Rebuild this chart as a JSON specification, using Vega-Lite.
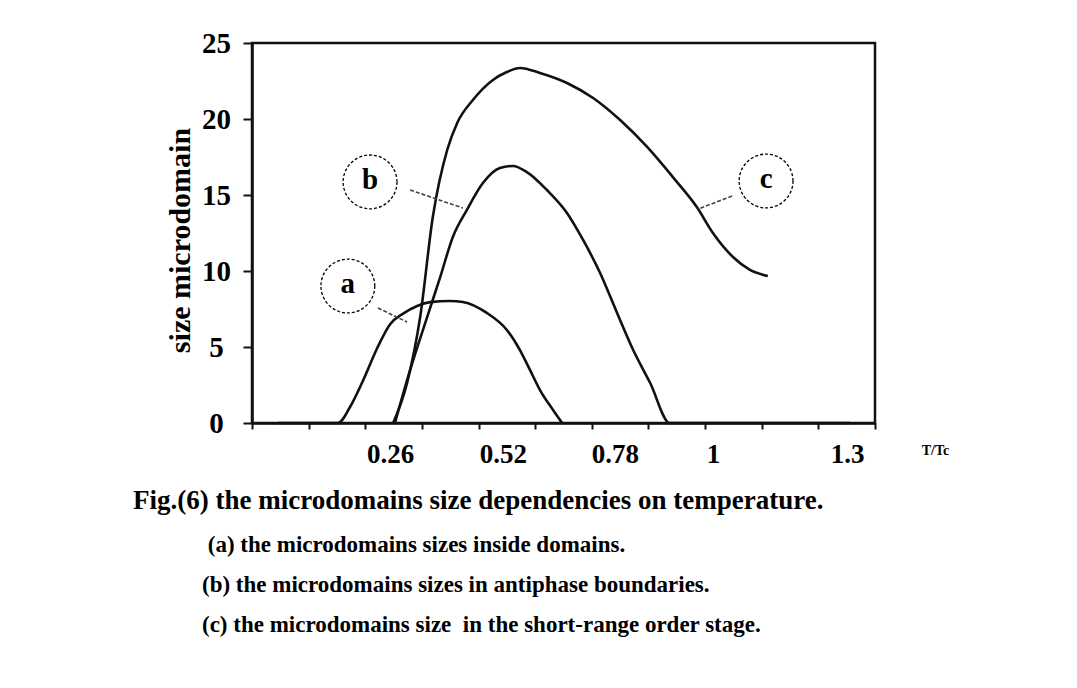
{
  "$schema": "https://vega.github.io/schema/vega-lite/v6.json",
  "width": 623,
  "height": 380,
  "autosize": {"type": "none"},
  "padding": {"left": 252, "top": 43, "right": 202, "bottom": 265},
  "background": "white",
  "config": {
    "font": "Liberation Serif",
    "view": {"stroke": "#111111", "strokeWidth": 2.5},
    "axis": {
      "domainColor": "#111111",
      "domainWidth": 2.5,
      "tickColor": "#111111",
      "tickWidth": 2,
      "grid": false,
      "labelFont": "Liberation Serif",
      "labelFontWeight": "bold",
      "labelColor": "#000000",
      "titleFont": "Liberation Serif",
      "titleFontWeight": "bold",
      "titleColor": "#000000"
    }
  },
  "title": {
    "text": "Fig.(6) the microdomains size dependencies on temperature.",
    "subtitle": [
      "\u200b\u00a0\u00a0\u00a0\u00a0\u00a0\u00a0\u00a0\u00a0\u00a0\u00a0\u00a0\u00a0\u00a0(a) the microdomains sizes inside domains.",
      "\u200b\u00a0\u00a0\u00a0\u00a0\u00a0\u00a0\u00a0\u00a0\u00a0\u00a0\u00a0\u00a0(b) the microdomains sizes in antiphase boundaries.",
      "\u200b\u00a0\u00a0\u00a0\u00a0\u00a0\u00a0\u00a0\u00a0\u00a0\u00a0\u00a0\u00a0(c) the microdomains size\u00a0 in the short-range order stage."
    ],
    "orient": "bottom",
    "anchor": "start",
    "frame": "group",
    "dx": -119,
    "offset": 21,
    "font": "Liberation Serif",
    "fontSize": 27,
    "fontWeight": "bold",
    "color": "#000000",
    "subtitleFont": "Liberation Serif",
    "subtitleFontSize": 23,
    "subtitleFontWeight": "bold",
    "subtitleColor": "#000000",
    "subtitlePadding": 19,
    "subtitleLineHeight": 40
  },
  "datasets": {
    "curves": [
      {"series": "a", "T_Tc": 0.060, "size": 0},
      {"series": "a", "T_Tc": 0.197, "size": 0},
      {"series": "a", "T_Tc": 0.225, "size": 1.05},
      {"series": "a", "T_Tc": 0.255, "size": 2.8},
      {"series": "a", "T_Tc": 0.287, "size": 4.9},
      {"series": "a", "T_Tc": 0.317, "size": 6.5},
      {"series": "a", "T_Tc": 0.347, "size": 7.2},
      {"series": "a", "T_Tc": 0.379, "size": 7.7},
      {"series": "a", "T_Tc": 0.409, "size": 7.95},
      {"series": "a", "T_Tc": 0.454, "size": 8.03},
      {"series": "a", "T_Tc": 0.484, "size": 7.96},
      {"series": "a", "T_Tc": 0.539, "size": 7.24},
      {"series": "a", "T_Tc": 0.585, "size": 6.12},
      {"series": "a", "T_Tc": 0.615, "size": 4.8},
      {"series": "a", "T_Tc": 0.638, "size": 3.49},
      {"series": "a", "T_Tc": 0.661, "size": 2.17},
      {"series": "a", "T_Tc": 0.691, "size": 0.86},
      {"series": "a", "T_Tc": 0.712, "size": 0},
      {"series": "b", "T_Tc": 0.328, "size": 0},
      {"series": "b", "T_Tc": 0.363, "size": 3.49},
      {"series": "b", "T_Tc": 0.402, "size": 6.97},
      {"series": "b", "T_Tc": 0.432, "size": 9.6},
      {"series": "b", "T_Tc": 0.461, "size": 12.24},
      {"series": "b", "T_Tc": 0.493, "size": 14.01},
      {"series": "b", "T_Tc": 0.530, "size": 15.79},
      {"series": "b", "T_Tc": 0.569, "size": 16.78},
      {"series": "b", "T_Tc": 0.599, "size": 16.91},
      {"series": "b", "T_Tc": 0.631, "size": 16.51},
      {"series": "b", "T_Tc": 0.677, "size": 15.33},
      {"series": "b", "T_Tc": 0.723, "size": 13.82},
      {"series": "b", "T_Tc": 0.760, "size": 12.04},
      {"series": "b", "T_Tc": 0.799, "size": 9.87},
      {"series": "b", "T_Tc": 0.838, "size": 7.24},
      {"series": "b", "T_Tc": 0.875, "size": 4.8},
      {"series": "b", "T_Tc": 0.914, "size": 2.63},
      {"series": "b", "T_Tc": 0.959, "size": 0},
      {"series": "b", "T_Tc": 1.373, "size": 0},
      {"series": "c", "T_Tc": 0.324, "size": 0},
      {"series": "c", "T_Tc": 0.356, "size": 2.63},
      {"series": "c", "T_Tc": 0.386, "size": 6.97},
      {"series": "c", "T_Tc": 0.415, "size": 13.55},
      {"series": "c", "T_Tc": 0.448, "size": 17.96},
      {"series": "c", "T_Tc": 0.471, "size": 19.74},
      {"series": "c", "T_Tc": 0.507, "size": 21.25},
      {"series": "c", "T_Tc": 0.553, "size": 22.57},
      {"series": "c", "T_Tc": 0.585, "size": 23.09},
      {"series": "c", "T_Tc": 0.615, "size": 23.36},
      {"series": "c", "T_Tc": 0.661, "size": 23.03},
      {"series": "c", "T_Tc": 0.723, "size": 22.37},
      {"series": "c", "T_Tc": 0.783, "size": 21.38},
      {"series": "c", "T_Tc": 0.845, "size": 19.93},
      {"series": "c", "T_Tc": 0.907, "size": 18.16},
      {"series": "c", "T_Tc": 0.966, "size": 16.18},
      {"series": "c", "T_Tc": 1.021, "size": 14.21},
      {"series": "c", "T_Tc": 1.058, "size": 12.5},
      {"series": "c", "T_Tc": 1.104, "size": 10.92},
      {"series": "c", "T_Tc": 1.143, "size": 10.07},
      {"series": "c", "T_Tc": 1.184, "size": 9.67}
    ],
    "labels": [
      {"label": "a", "T_Tc": 0.220, "size": 9.01},
      {"label": "b", "T_Tc": 0.271, "size": 15.86},
      {"label": "c", "T_Tc": 1.180, "size": 15.92}
    ],
    "leaders": [
      {"label": "a", "T_Tc": 0.289, "size": 7.57, "T_Tc_end": 0.356, "size_end": 6.64},
      {"label": "b", "T_Tc": 0.363, "size": 15.33, "T_Tc_end": 0.484, "size_end": 14.14},
      {"label": "c", "T_Tc": 1.102, "size": 14.93, "T_Tc_end": 1.024, "size_end": 14.08}
    ]
  },
  "encoding": {
    "x": {
      "field": "T_Tc",
      "type": "quantitative",
      "scale": {"domain": [0, 1.43], "nice": false, "zero": false},
      "axis": {
        "title": "T/Tc",
        "titleFontSize": 14,
        "titleX": 683,
        "titleY": 27,
        "titleAlign": "center",
        "titleBaseline": "middle",
        "titleAnchor": null,
        "values": [0, 0.13, 0.26, 0.317, 0.39, 0.52, 0.576, 0.65, 0.78, 0.833, 0.91, 1.04, 1.058, 1.17, 1.3, 1.366, 1.43],
        "labelExpr": "abs(datum.value-0.317)<0.003 ? '0.26' : abs(datum.value-0.576)<0.003 ? '0.52' : abs(datum.value-0.833)<0.003 ? '0.78' : abs(datum.value-1.058)<0.003 ? '1' : abs(datum.value-1.366)<0.003 ? '1.3' : ''",
        "tickOpacity": {"condition": {"test": "abs(datum.value/0.13 - round(datum.value/0.13)) < 0.02", "value": 1}, "value": 0},
        "tickSize": 6,
        "labelFontSize": 27,
        "labelPadding": 12,
        "labelOverlap": false,
        "labelFlush": false,
        "labelBaseline": "top"
      }
    },
    "y": {
      "field": "size",
      "type": "quantitative",
      "scale": {"domain": [0, 25], "nice": false},
      "axis": {
        "title": "size microdomain",
        "titleFontSize": 30,
        "titlePadding": 6,
        "titleY": 197,
        "titleAlign": "center",
        "titleAnchor": null,
        "values": [0, 5, 10, 15, 20, 25],
        "tickSize": 9,
        "labelFontSize": 29,
        "labelAlign": "center",
        "labelPadding": 27,
        "labelBaseline": "middle"
      }
    }
  },
  "layer": [
    {
      "data": {"name": "curves"},
      "mark": {"type": "line", "color": "#111111", "strokeWidth": 2.6, "interpolate": "monotone"},
      "encoding": {"detail": {"field": "series", "type": "nominal"}}
    },
    {
      "data": {"name": "leaders"},
      "mark": {"type": "rule", "color": "#444444", "strokeWidth": 1.6, "strokeDash": [4, 2]},
      "encoding": {
        "x2": {"field": "T_Tc_end"},
        "y2": {"field": "size_end"}
      }
    },
    {
      "data": {"name": "labels"},
      "mark": {"type": "point", "shape": "circle", "filled": false, "size": 2900, "color": "#000000", "strokeWidth": 1.3, "strokeDash": [3, 2], "opacity": 1}
    },
    {
      "data": {"name": "labels"},
      "mark": {"type": "text", "font": "Liberation Serif", "fontWeight": "bold", "fontSize": 29, "color": "#000000", "baseline": "middle", "align": "center", "dy": -2},
      "encoding": {"text": {"field": "label", "type": "nominal"}}
    }
  ]
}
